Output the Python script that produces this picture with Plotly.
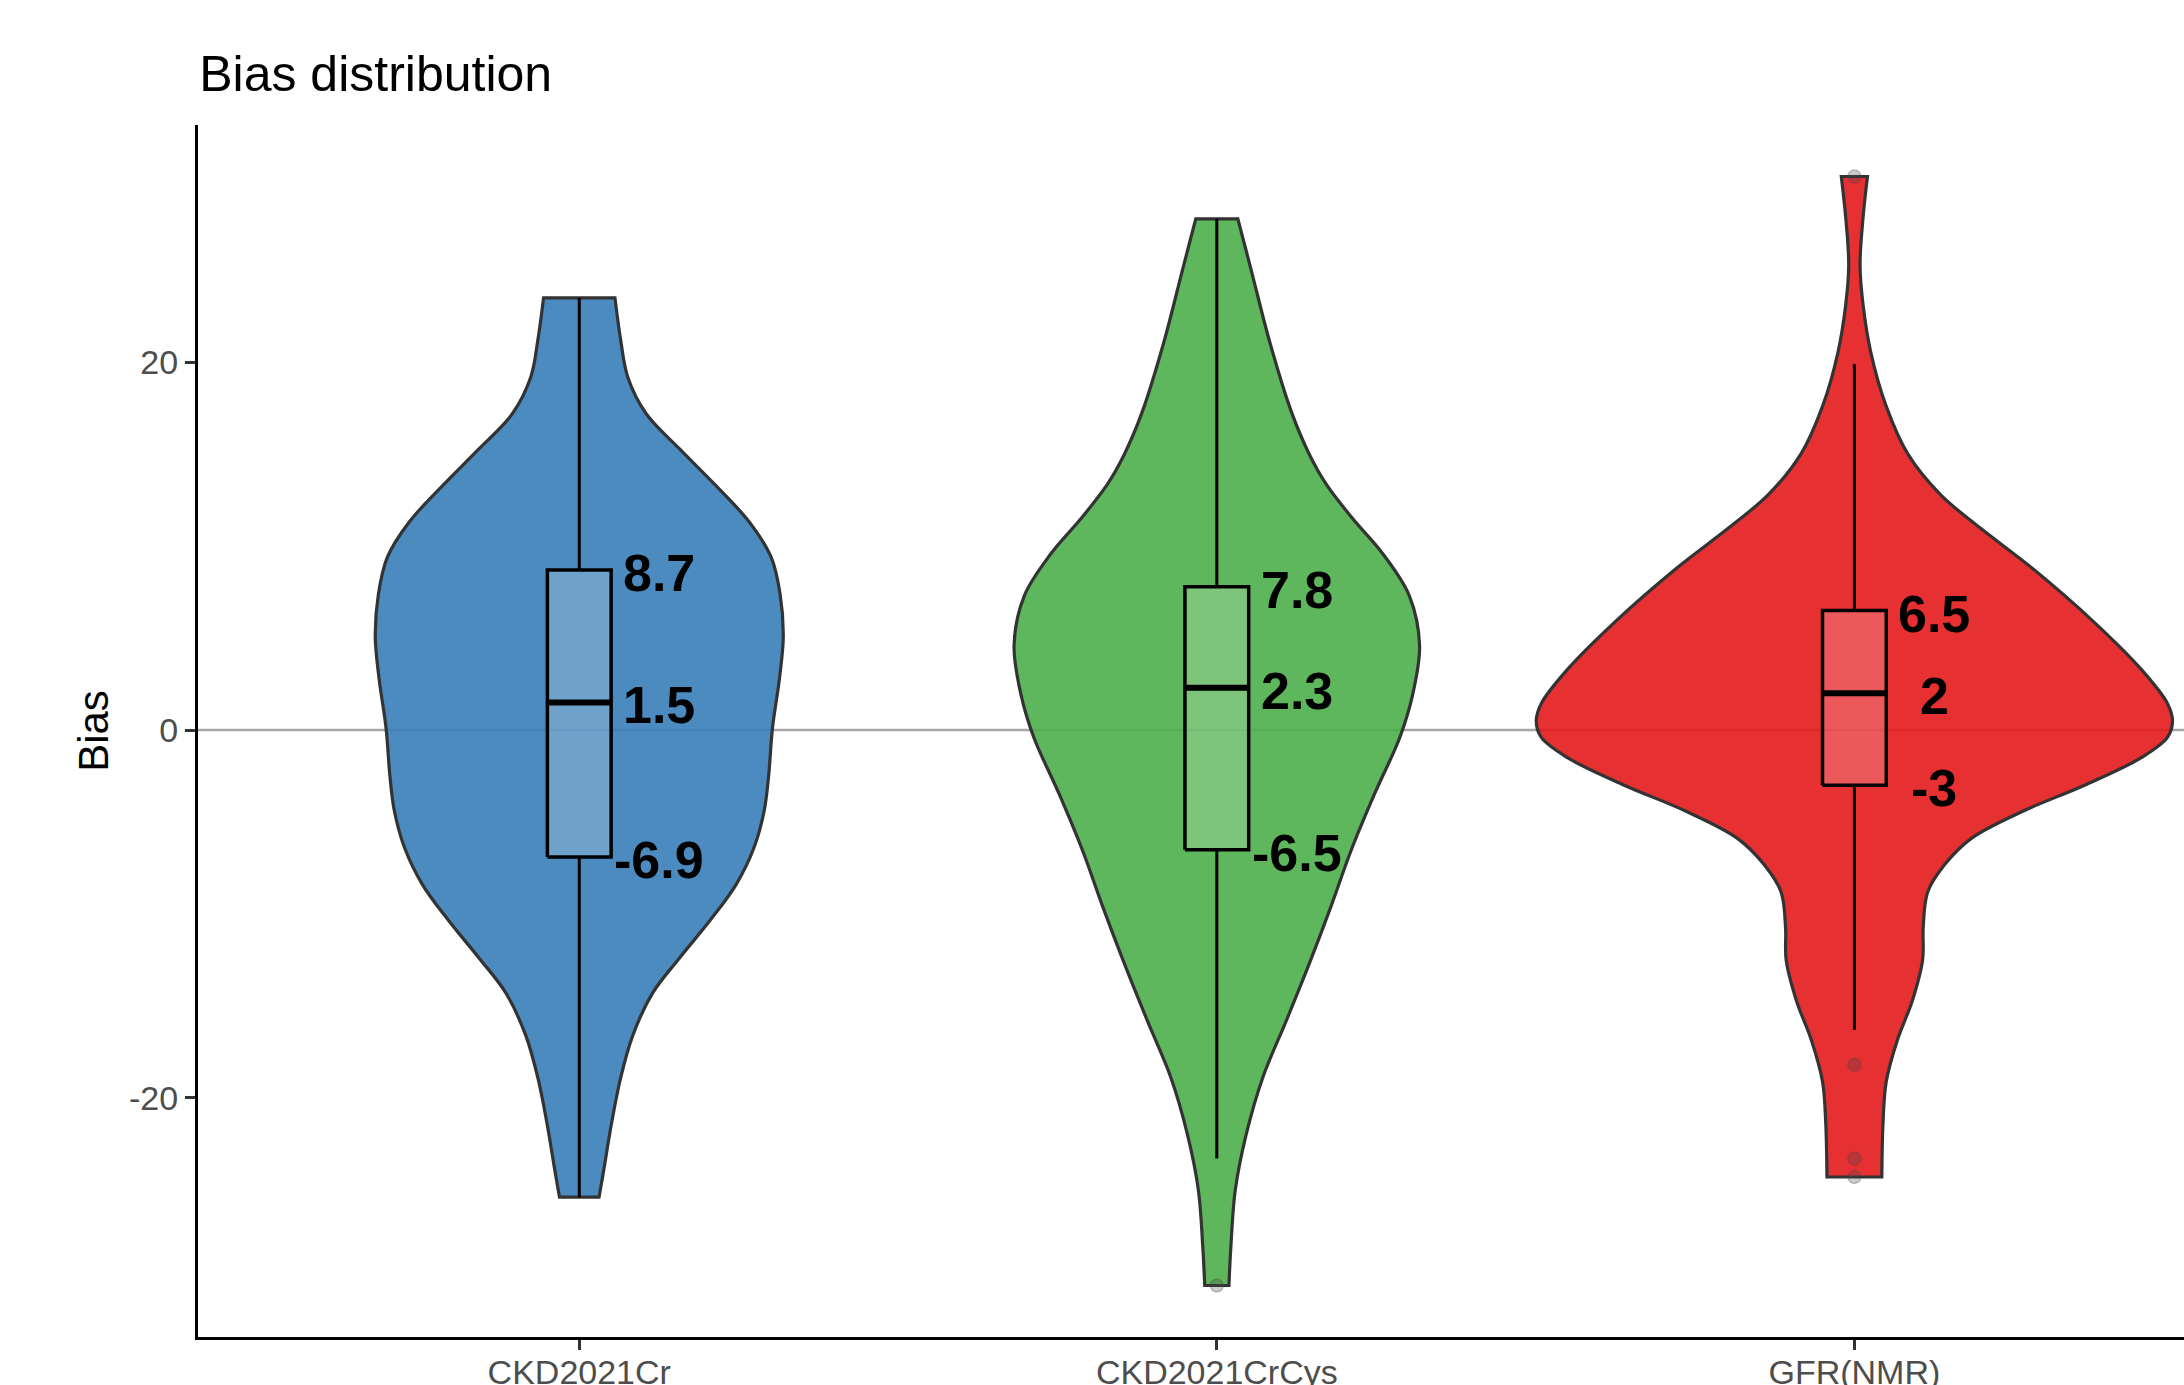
import plotly.graph_objects as go

# Groups on the x axis
categories = ["CKD2021Cr", "CKD2021CrCys", "GFR(NMR)"]
fill_colors = ["rgba(55,126,184,0.9)", "rgba(77,175,74,0.9)", "rgba(228,26,28,0.9)"]

# Violin outlines: bias level and density half-width (in x units) per group
cr_levels = [23.5, 21.2, 19.2, 17.2, 15.3, 13.3, 11.3, 9.4, 7.4, 5.1, 2.8, 0.1,
             -2.5, -4.4, -6.4, -8.4, -10.4, -12.4, -14.3, -16.6, -18.9, -21.5, -23.8, -25.4]
cr_halfwidth = [0.056, 0.065, 0.076, 0.105, 0.157, 0.214, 0.267, 0.301, 0.315, 0.320, 0.314, 0.303,
                0.297, 0.290, 0.274, 0.246, 0.204, 0.157, 0.115, 0.084, 0.065, 0.050, 0.039, 0.031]

crcys_levels = [27.8, 25.0, 21.1, 17.3, 15.0, 13.4, 11.5, 9.6, 7.3, 4.6, 1.9, -0.4,
                -3.5, -6.6, -9.6, -12.7, -15.8, -18.9, -22.0, -25.0, -28.1, -30.2]
crcys_halfwidth = [0.033, 0.054, 0.083, 0.117, 0.145, 0.171, 0.213, 0.260, 0.302, 0.318, 0.307, 0.287,
                   0.247, 0.210, 0.179, 0.145, 0.109, 0.072, 0.046, 0.029, 0.022, 0.019]

nmr_levels = [30.1, 27.9, 25.3, 23.1, 20.5, 17.6, 15.0, 12.8, 11.0, 8.8, 5.9, 3.3, 1.45, 0.5,
              -0.4, -1.5, -3.0, -4.4, -5.9, -7.3, -8.8, -10.7, -12.5, -14.7, -16.9, -19.1, -21.3, -24.3]
nmr_halfwidth = [0.0205, 0.0137, 0.0089, 0.0137, 0.026, 0.050, 0.084, 0.135, 0.197, 0.279, 0.375, 0.450,
                 0.491, 0.499, 0.491, 0.450, 0.361, 0.265, 0.183, 0.142, 0.115, 0.108, 0.107, 0.091,
                 0.067, 0.050, 0.045, 0.043]

violin_levels = [cr_levels, crcys_levels, nmr_levels]
violin_halfwidths = [cr_halfwidth, crcys_halfwidth, nmr_halfwidth]

# Box-plot summaries
q1 = [-6.9, -6.5, -3]
median = [1.5, 2.3, 2]
q3 = [8.7, 7.8, 6.5]
whisker_low = [-25.4, -23.3, -16.3]
whisker_high = [23.5, 27.8, 19.9]
outliers = [[], [-30.2], [30.1, -18.2, -23.3, -24.3]]

y_ticks = [-20, 0, 20]
y_tick_text = ["-20", "0", "20"]

FONT = "Liberation Sans, Arial, sans-serif"
BOX_W = 0.1
LABEL_DX = 0.125

fig = go.Figure()

for i, cat in enumerate(categories):
    pos = i + 1
    lv = violin_levels[i]
    hw = violin_halfwidths[i]

    # violin body; the end points are doubled so the trimmed ends stay square
    right_x = [pos + w for w in hw]
    left_x = [pos - w for w in reversed(hw)]
    rev_lv = list(reversed(lv))
    xs = [right_x[0]] + right_x + [right_x[-1]] + [left_x[0]] + left_x + [left_x[-1], right_x[0]]
    ys = [lv[0]] + list(lv) + [lv[-1]] + [rev_lv[0]] + rev_lv + [rev_lv[-1], lv[0]]
    fig.add_trace(go.Scatter(
        x=xs, y=ys, mode="lines", fill="toself", fillcolor=fill_colors[i],
        line=dict(color="#333333", width=3.2, shape="spline", smoothing=1.0, simplify=False),
        hoverinfo="skip", showlegend=False,
    ))

    # whiskers
    fig.add_trace(go.Scatter(
        x=[pos, pos, None, pos, pos],
        y=[q3[i], whisker_high[i], None, q1[i], whisker_low[i]],
        mode="lines", line=dict(color="black", width=3),
        hoverinfo="skip", showlegend=False,
    ))

    # interquartile box
    x0, x1 = pos - BOX_W / 2, pos + BOX_W / 2
    fig.add_trace(go.Scatter(
        x=[x0, x1, x1, x0, x0], y=[q1[i], q1[i], q3[i], q3[i], q1[i]],
        mode="lines", fill="toself", fillcolor="rgba(255,255,255,0.2)",
        line=dict(color="black", width=3.5),
        hoverinfo="skip", showlegend=False,
    ))

    # median bar
    fig.add_trace(go.Scatter(
        x=[x0, x1], y=[median[i], median[i]],
        mode="lines", line=dict(color="black", width=6),
        hoverinfo="skip", showlegend=False,
    ))

    if outliers[i]:
        fig.add_trace(go.Scatter(
            x=[pos] * len(outliers[i]), y=outliers[i], mode="markers",
            marker=dict(size=13, color="rgba(70,70,70,0.28)",
                        line=dict(color="rgba(70,70,70,0.3)", width=1.5)),
            hoverinfo="skip", showlegend=False,
        ))

    for v in (q3[i], median[i], q1[i]):
        fig.add_annotation(
            x=pos + LABEL_DX, y=v, text=f"{v:g}", showarrow=False,
            xanchor="center", yanchor="middle", yshift=-3,
            font=dict(family=FONT, size=52, color="black", weight="bold"),
        )

fig.add_shape(type="line", xref="paper", x0=0, x1=1, yref="y", y0=0, y1=0,
              line=dict(color="#a6a6a6", width=2.5), layer="below")

fig.update_layout(
    width=2184, height=1385,
    margin=dict(l=198, r=0, t=125, b=48, autoexpand=False),
    paper_bgcolor="white", plot_bgcolor="white",
    font=dict(family=FONT),
    title=dict(text="Bias distribution", x=0.0912, xanchor="left",
               y=1 - 73 / 1385, yanchor="middle",
               font=dict(family=FONT, size=50, color="black")),
    showlegend=False,
)
fig.update_xaxes(
    range=[0.402, 3.517], tickvals=[1, 2, 3], ticktext=categories,
    showline=True, linecolor="black", linewidth=3,
    ticks="outside", ticklen=10, tickwidth=2.5, tickcolor="#333333",
    tickfont=dict(family=FONT, size=34, color="#4d4d4d"),
    ticklabelstandoff=-7,
    showgrid=False, zeroline=False,
)
fig.update_yaxes(
    range=[-33.0, 32.9], tickvals=y_ticks, ticktext=y_tick_text,
    showline=True, linecolor="black", linewidth=3,
    ticks="outside", ticklen=10, tickwidth=2.5, tickcolor="#333333",
    tickfont=dict(family=FONT, size=34, color="#4d4d4d"),
    showgrid=False, zeroline=False,
    title=dict(text="Bias", font=dict(family=FONT, size=42, color="black"), standoff=8),
)

fig.write_html("out.html")
